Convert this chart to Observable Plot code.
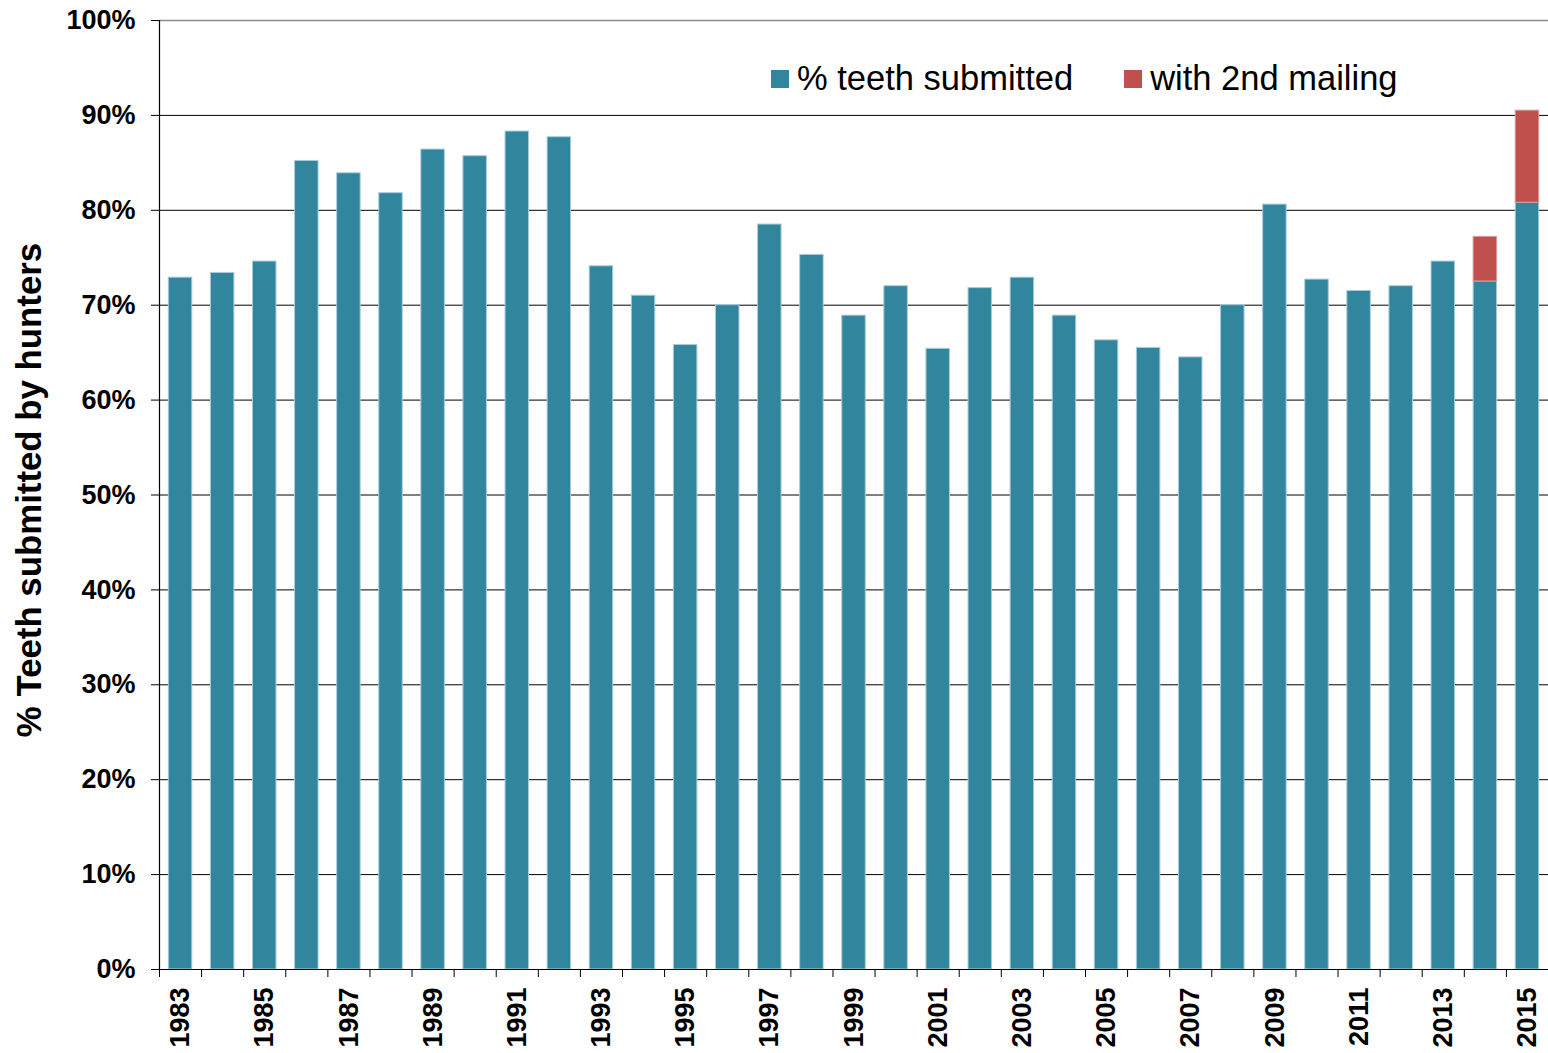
<!DOCTYPE html>
<html>
<head>
<meta charset="utf-8">
<script src="https://cdn.jsdelivr.net/npm/d3@7"></script>
<script src="https://cdn.jsdelivr.net/npm/@observablehq/plot@0.6"></script>
<style>
  html, body { margin: 0; padding: 0; background: #fff; }
  #wrap { position: relative; width: 1548px; height: 1053px; font-family: "Liberation Sans", Arial, sans-serif; }
  #legend { position: absolute; left: 771px; top: 59px; display: flex; align-items: center; font-size: 34.5px; color: #000; white-space: nowrap; }
  .sw { display: inline-block; width: 18px; height: 18px; margin-right: 8px; }
  .item { display: flex; align-items: center; }
</style>
</head>
<body>
<div id="wrap"><div id="legend"></div></div>
<script>
// ---- data ----
const years = [1983,1984,1985,1986,1987,1988,1989,1990,1991,1992,1993,1994,1995,1996,1997,1998,1999,2000,2001,2002,2003,2004,2005,2006,2007,2008,2009,2010,2011,2012,2013,2014,2015];
const teethSubmitted = [72.9,73.4,74.6,85.2,83.9,81.8,86.4,85.7,88.3,87.7,74.1,71.0,65.8,70.0,78.5,75.3,68.9,72.0,65.4,71.8,72.9,68.9,66.3,65.5,64.5,70.0,80.6,72.7,71.5,72.0,74.6,72.5,80.8];
const secondMailingYears = [2014, 2015];
const secondMailingExtra = [4.7, 9.7];
const yTicks = [0,10,20,30,40,50,60,70,80,90,100];
const xLabelYears = years.filter((y, i) => i % 2 === 0);
const seriesNames = ["% teeth submitted", "with 2nd mailing"];
const seriesColors = ["#31859C", "#C0504D"];
const yAxisTitle = "% Teeth submitted by hunters";

// ---- tables ----
const teethTable = years.map((year, i) => ({year, value: teethSubmitted[i]}));
const extraTable = secondMailingYears.map((year, i) => {
  const base = teethSubmitted[years.indexOf(year)];
  return {year, base, top: base + secondMailingExtra[i]};
});
const boundaries = years.map(y => y - 0.5).concat([years[years.length - 1] + 0.5]);

const font = "'Liberation Sans', Arial, sans-serif";

const chart = Plot.plot({
  width: 1548,
  height: 1053,
  marginLeft: 159,
  marginRight: 0,
  marginTop: 20,
  marginBottom: 84,
  style: {fontFamily: font, color: "#000", background: "transparent"},
  x: {type: "linear", domain: [boundaries[0], boundaries[boundaries.length - 1]]},
  y: {domain: [0, 100]},
  marks: [
    Plot.gridY(yTicks.filter(v => v > 0 && v < 100), {stroke: "#000", strokeOpacity: 1, strokeWidth: 1}),
    Plot.ruleY([100], {stroke: "#8c8c8c", strokeWidth: 1.5}),
    Plot.rect(teethTable, {
      x1: d => d.year - 0.5, x2: d => d.year + 0.5, y1: 0, y2: "value",
      fill: seriesColors[0], stroke: "#a8ccd8", strokeWidth: 1, insetLeft: 9.3, insetRight: 9.3
    }),
    Plot.rect(extraTable, {
      x1: d => d.year - 0.5, x2: d => d.year + 0.5, y1: "base", y2: "top",
      fill: seriesColors[1], stroke: "#dc9a98", strokeWidth: 1, insetLeft: 9.3, insetRight: 9.3
    }),
    Plot.ruleY([0], {stroke: "#000", strokeWidth: 1.2}),
    Plot.ruleX([boundaries[0]], {stroke: "#000", strokeWidth: 1.2}),
    Plot.axisY({
      ticks: yTicks, tickSize: 8, tickPadding: 16, tickFormat: d => d + "%",
      fontSize: 27, fontWeight: "bold", label: null, stroke: "#000"
    }),
    Plot.axisX({ticks: boundaries, tickSize: 8, tickFormat: () => "", label: null, stroke: "#000"}),
    Plot.axisX({
      ticks: xLabelYears, tickSize: 0, tickPadding: 18, tickRotate: -90,
      tickFormat: d => String(d), fontSize: 27, fontWeight: "bold", label: null
    }),
    Plot.text([yAxisTitle], {
      frameAnchor: "left", textAnchor: "middle", dx: -130, dy: -5, rotate: -90,
      fontSize: 34.8, fontWeight: "bold", fill: "#000"
    })
  ]
});

const wrap = document.getElementById("wrap");
wrap.insertBefore(chart, wrap.firstChild);

const legend = document.getElementById("legend");
seriesNames.forEach((name, i) => {
  const item = document.createElement("div");
  item.className = "item";
  if (i > 0) item.style.marginLeft = "51px";
  const sw = document.createElement("span");
  sw.className = "sw";
  sw.style.background = seriesColors[i];
  const t = document.createElement("span");
  t.textContent = name;
  item.appendChild(sw);
  item.appendChild(t);
  legend.appendChild(item);
});
</script>
</body>
</html>
